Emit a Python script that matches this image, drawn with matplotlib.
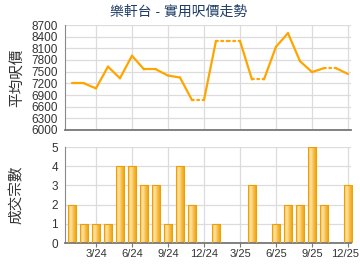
import numpy as np
import matplotlib
matplotlib.use("Agg")
import matplotlib.pyplot as plt
import matplotlib.transforms as mtransforms
from matplotlib.colors import LinearSegmentedColormap

plt.rcParams['font.family'] = ['Liberation Sans', 'Noto Sans CJK TC', 'DejaVu Sans']

months = ["1/24", "2/24", "3/24", "4/24", "5/24", "6/24", "7/24", "8/24", "9/24", "10/24", "11/24", "12/24",
          "1/25", "2/25", "3/25", "4/25", "5/25", "6/25", "7/25", "8/25", "9/25", "10/25", "11/25", "12/25"]
# average price per sq ft (NaN = no transaction that month)
prices = [7200, 7200, 7070, 7630, 7330, 7910, 7560, 7560, 7400, 7350, 6770, np.nan,
          8290, np.nan, np.nan, 7300, np.nan, 8140, 8490, 7770, 7490, 7590, np.nan, 7440]
counts = [2, 1, 1, 1, 4, 4, 3, 3, 1, 4, 2, 0,
          1, 0, 0, 3, 0, 1, 2, 2, 5, 2, 0, 3]
tick_labels = ["3/24", "6/24", "9/24", "12/24", "3/25", "6/25", "9/25", "12/25"]
price_ticks = [6000, 6300, 6600, 6900, 7200, 7500, 7800, 8100, 8400, 8700]
count_ticks = [0, 1, 2, 3, 4, 5]

x = np.arange(len(months))
tick_pos = [months.index(t) for t in tick_labels]

fig = plt.figure(figsize=(3.6, 2.7), dpi=100)
left, width = 65/360, 286/360
ax1 = fig.add_axes([left, 1-130/270, width, 105/270])
ax2 = fig.add_axes([left, 1-243/270, width, 96/270])

grid_c = '#dcdcdc'
spine_c = '#8a8a8a'
txt_c = '#333333'
line_c = '#FFA500'

for ax in (ax1, ax2):
    ax.set_xlim(-0.58, 23.25)
    ax.set_xticks(tick_pos)
    for s in ('top', 'right'):
        ax.spines[s].set_visible(False)
    ax.spines['left'].set_color(spine_c)
    ax.spines['bottom'].set_color('#777777')
    ax.spines['bottom'].set_linewidth(1.3)
    ax.grid(True, color=grid_c, linewidth=0.9)
    ax.set_axisbelow(True)
    ax.tick_params(axis='y', length=0, labelsize=8.5, colors=txt_c, pad=5)
    ax.tick_params(axis='x', length=3, color='#777777', labelsize=8, colors=txt_c, pad=1)

# price line with carried-forward dotted segments
p = np.array(prices, dtype=float)
filled = p.copy()
for i in range(1, len(filled)):
    if np.isnan(filled[i]):
        filled[i] = filled[i-1]
for i in range(len(x)-1):
    if np.isnan(p[i+1]):
        ax1.plot(x[i:i+2], filled[i:i+2], color=line_c, linewidth=1.6,
                 linestyle=(0, (0.8, 1.6)), dash_capstyle='round')
    else:
        ax1.plot(x[i:i+2], filled[i:i+2], color=line_c, linewidth=1.6,
                 linestyle='-', solid_capstyle='round')
ax1.set_ylim(6000, 8700)
ax1.set_yticks(price_ticks)
ax1.set_xticklabels([])
ax1.tick_params(axis='x', length=0)
ax1.set_ylabel('平均呎價', fontsize=10.5, color=txt_c)

# bars with gradient
cmap = LinearSegmentedColormap.from_list('g', ['#f9c660', '#fde2a3', '#f7b940', '#eea000'])
grad = np.linspace(0, 1, 64).reshape(1, -1)
bw = 0.72
ax2.set_ylim(0, 5)
for xi, c in zip(x, counts):
    if c <= 0:
        continue
    bar = ax2.bar(xi, c, width=bw, color='none', edgecolor='#eda000', linewidth=0.8, zorder=3)[0]
    im = ax2.imshow(grad, extent=[xi-bw/2, xi+bw/2, 0, c], aspect='auto', cmap=cmap, zorder=2.5)
    im.set_clip_path(bar)
ax2.set_xlim(-0.58, 23.25)
ax2.set_ylim(0, 5)
ax2.set_yticks(count_ticks)
ax2.set_xticklabels(tick_labels)
ax2.set_ylabel('成交宗數', fontsize=10.5, color=txt_c)

# nudge the last tick label so it stays inside the figure
last = ax2.get_xticklabels()[-1]
last.set_transform(last.get_transform() + mtransforms.ScaledTranslation(-3/100, 0, fig.dpi_scale_trans))

ax1.yaxis.set_label_coords(-0.145, 0.5)
ax2.yaxis.set_label_coords(-0.145, 0.5)

fig.text(0.497, 1-12/270, '樂軒台 - 實用呎價走勢', ha='center', va='center',
         fontsize=10, color='#1f3d66')

fig.savefig('out.png', dpi=100)
